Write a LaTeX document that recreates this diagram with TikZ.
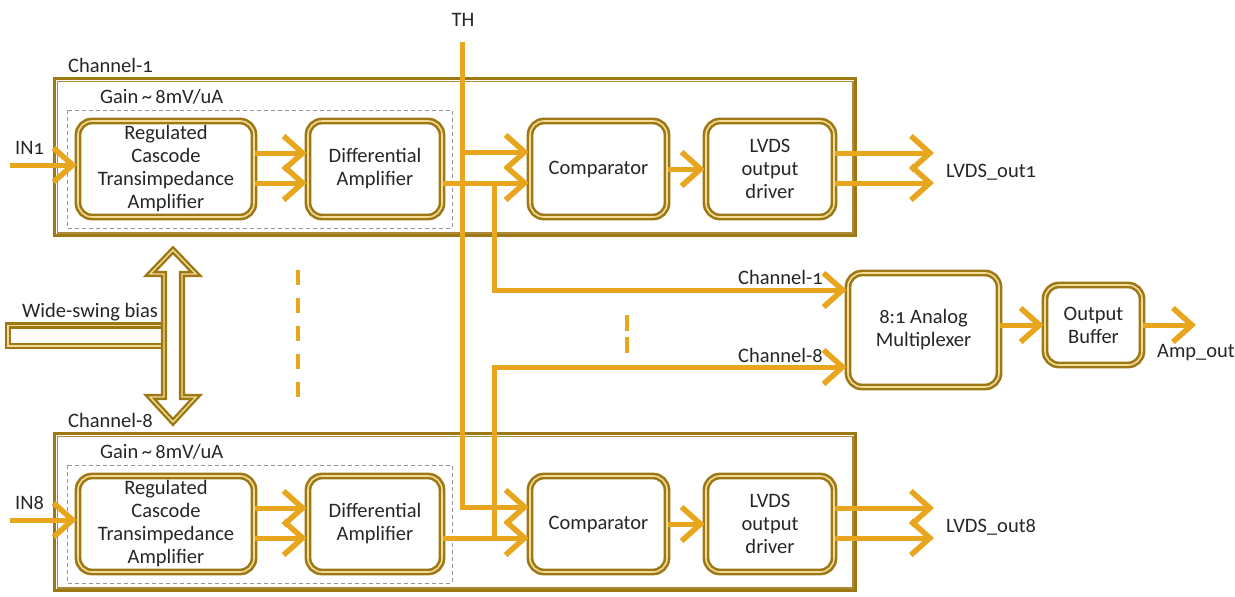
\documentclass[tikz,border=0pt]{standalone}
\usepackage{fontspec}
\setmainfont{Carlito}[Numbers=OldStyle]
\usetikzlibrary{arrows.meta,calc}
\definecolor{wireC}{RGB}{232,166,30}
\definecolor{goldD}{RGB}{158,120,20}
\definecolor{goldL}{RGB}{240,220,150}
\definecolor{txtC}{RGB}{38,38,38}
\definecolor{dashG}{RGB}{150,150,150}
\begin{document}
\begin{tikzpicture}[x=1pt,y=-1pt,
  every node/.style={font=\fontsize{20.5}{23}\selectfont, text=txtC},
  blk/.style={draw=goldD, line width=2.6pt, double=goldL, double distance=1.6pt, fill=white, rounded corners=14pt, align=center, inner sep=0pt},
  chbox/.style={draw=goldD, line width=3.4pt, inner sep=0pt},
  chinner/.style={draw=goldD!85, line width=1.6pt},
  gainbox/.style={draw=dashG, line width=0.8pt, dash pattern=on 4pt off 3pt},
  wire/.style={draw=wireC, line width=5pt},
  arr/.style={wire, -{Straight Barb[length=19pt,width=34pt,line width=5.5pt]}},
  lbl/.style={anchor=west, inner sep=0pt},
  dots/.style={draw=wireC, line width=4pt},
  hollow/.style={draw=goldD, line width=2.4pt, double=goldL, double distance=1.4pt, fill=white},
]
\useasboundingbox (0,0) rectangle (1235,597);

% channel frames and labels
\foreach \c/\dy in {1/0,8/355}{
  \node[chbox, minimum width=801pt, minimum height=157pt] (ch\c) at (455,157+\dy) {};
  \draw[chinner] ($(ch\c.north west)+(4.5,4.5)$) rectangle ($(ch\c.south east)+(-4.5,-4.5)$);
  \node[lbl] (chl\c) at (68,65+\dy) {Channel-\c};
  \node[lbl] (gain\c) at (100,97+\dy) {Gain\,\textasciitilde\,8mV/uA};
  \draw[gainbox] (67,110+\dy) rectangle (452,228+\dy);
  \node[lbl] (inl\c) at (15,148+\dy) {IN\c};
  \node[lbl] (lvl\c) at (946,172+\dy) {LVDS\_out\c};
}

% blocks
\foreach \c/\dy in {1/0,8/355}{
  \node[blk, minimum width=176pt, minimum height=96pt] (rc\c) at (166,169+\dy) {Regulated\\Cascode\\Transimpedance\\Amplifier};
  \node[blk, minimum width=134pt, minimum height=96pt] (dif\c) at (375,169+\dy) {Differential\\Amplifier};
  \node[blk, minimum width=137pt, minimum height=96pt] (cmp\c) at (598.5,169+\dy) {Comparator};
  \node[blk, minimum width=128pt, minimum height=96pt] (lv\c) at (770,169+\dy) {LVDS\\output\\driver};
}
\node[blk, minimum width=151pt, minimum height=114pt] (mux) at (923.5,330) {8:1 Analog\\Multiplexer};
\node[blk, minimum width=97pt, minimum height=80pt] (ob) at (1093.5,325) {Output\\Buffer};

% bias
\node[lbl] (biasl) at (22,312) {Wide-swing bias};
\draw[hollow] (8,325.5) rectangle (166,346);
\draw[hollow, line join=miter] (173,250) -- (196,274) -- (182,274) -- (182,397) -- (196,397) -- (173,422) -- (150,397) -- (164,397) -- (164,274) -- (150,274) -- cycle;

% dashed "more channels" marks
\draw[dots, dash pattern=on 15pt off 13pt] (298,270) -- (298,398);
\draw[dots, dash pattern=on 16pt off 6pt] (627,315) -- (627,356);

% channel wiring
\foreach \c/\dy in {1/0,8/355}{
  \coordinate (in\c) at (10,165+\dy);
  \draw[arr] (in\c) -- (in\c -| rc\c.west);
  \draw[arr] ($(rc\c.east)+(0,-16)$) -- ($(dif\c.west)+(0,-16)$);
  \draw[arr] ($(rc\c.east)+(0,14)$) -- ($(dif\c.west)+(0,14)$);
  \coordinate (ca\c) at ($(cmp\c.west)+(0,-17)$);
  \coordinate (cb\c) at ($(cmp\c.west)+(0,14)$);
  \draw[arr] (dif\c.east |- cb\c) -- (cb\c);
  \draw[arr] (cmp\c.east) -- (lv\c.west);
  \coordinate (oa\c) at (934,153+\dy);
  \coordinate (ob\c) at (934,183+\dy);
  \draw[arr] (lv\c.east |- oa\c) -- (oa\c);
  \draw[arr] (lv\c.east |- ob\c) -- (ob\c);
}

% threshold
\node (th) at (463,20) {TH};
\coordinate (thtop) at (462,42);
\draw[arr] (thtop) |- (ca8);
\draw[arr] (thtop |- ca1) -- (ca1);

% to multiplexer
\coordinate (m1) at ($(mux.west)+(0,-40)$);
\coordinate (m8) at ($(mux.west)+(0,37)$);
\coordinate (j1) at (494,183);
\coordinate (j8) at (494,538);
\draw[arr] (j1) |- (m1);
\draw[arr] (j8) |- (m8);
\node[lbl] (mc1) at (738,277) {Channel-1};
\node[lbl] (mc8) at (738,355) {Channel-8};

% output
\draw[arr] (mux.east |- ob.west) -- (ob.west);
\coordinate (ampout) at (1196,325);
\draw[arr] (ob.east) -- (ampout);
\node[lbl] (ampl) at (1157,353) {Amp\_out};
\end{tikzpicture}
\end{document}
